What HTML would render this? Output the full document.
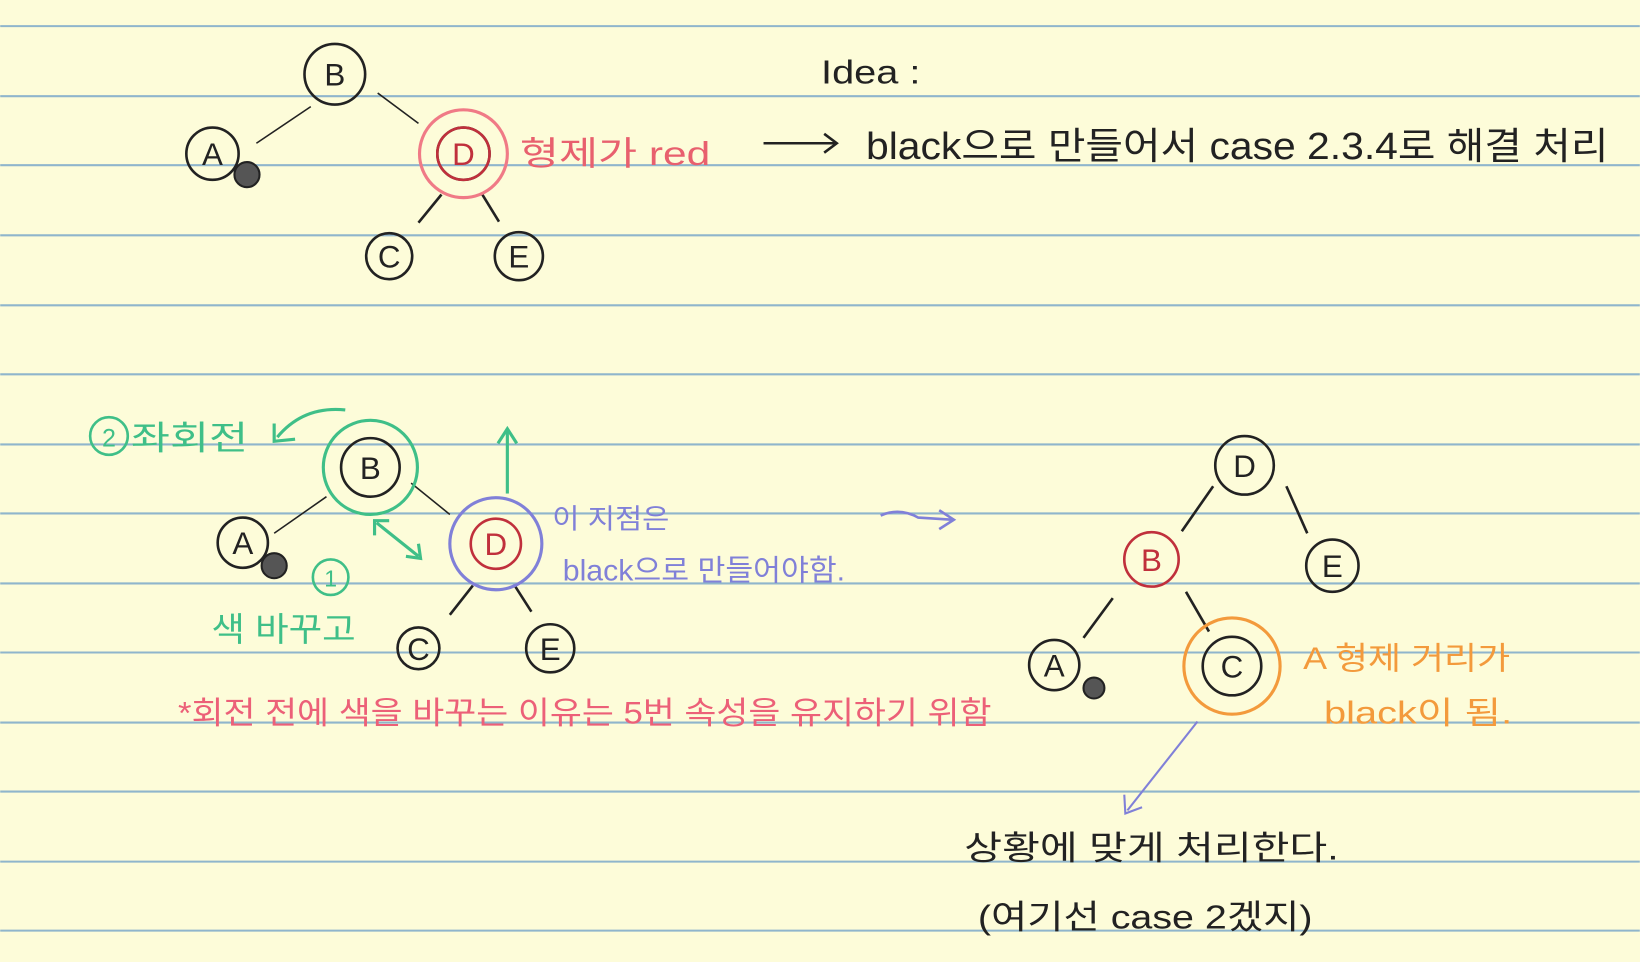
<!DOCTYPE html>
<html><head><meta charset="utf-8"><style>
html,body{margin:0;padding:0;background:#fdfcd9;}
svg{display:block;}
text{font-family:"Liberation Sans","Noto Sans CJK KR",sans-serif;}
</style></head><body>
<svg width="1640" height="962" viewBox="0 0 1568 920" xmlns="http://www.w3.org/2000/svg">
<rect width="1568" height="920" fill="#fdfcd9"/>
<g stroke="#8fb5cc" stroke-width="2">
<line x1="0" y1="25" x2="1568" y2="25"/><line x1="0" y1="92" x2="1568" y2="92"/>
<line x1="0" y1="158" x2="1568" y2="158"/><line x1="0" y1="225" x2="1568" y2="225"/>
<line x1="0" y1="292" x2="1568" y2="292"/><line x1="0" y1="358" x2="1568" y2="358"/>
<line x1="0" y1="425" x2="1568" y2="425"/><line x1="0" y1="491" x2="1568" y2="491"/>
<line x1="0" y1="558" x2="1568" y2="558"/><line x1="0" y1="624" x2="1568" y2="624"/>
<line x1="0" y1="691" x2="1568" y2="691"/><line x1="0" y1="757" x2="1568" y2="757"/>
<line x1="0" y1="824" x2="1568" y2="824"/><line x1="0" y1="890" x2="1568" y2="890"/>
</g>
<!-- top tree -->
<g fill="none" stroke="#222" stroke-width="2.5">
<circle cx="320" cy="71" r="29"/><circle cx="203" cy="147" r="25"/>
<circle cx="443" cy="147" r="25"/><circle cx="372" cy="245" r="22"/><circle cx="496" cy="245" r="23"/>
<line x1="297" y1="102" x2="245" y2="137" stroke-width="1.5"/><line x1="361" y1="89" x2="400" y2="118" stroke-width="1.5"/>
<line x1="422" y1="186" x2="400" y2="213"/><line x1="461" y1="186" x2="477" y2="212"/>
<line x1="730" y1="137" x2="800" y2="137"/><path d="M788 128 L800 137 L788 146"/>
</g>
<circle cx="236" cy="167" r="12" fill="#555" stroke="#222" stroke-width="2"/>
<circle cx="443" cy="147" r="42" fill="none" stroke="#f07a86" stroke-width="3"/>
<circle cx="443" cy="147" r="25" fill="none" stroke="#c0303c" stroke-width="2.5"/>
<g font-size="30" text-anchor="middle" fill="#222"><text x="320" y="82">B</text><text x="203" y="158">A</text><text x="372" y="256">C</text><text x="496" y="256">E</text></g>
<text x="443" y="158" font-size="30" text-anchor="middle" fill="#c0303c">D</text>
<text x="497" y="158" font-size="32" fill="#e8606e" textLength="182" lengthAdjust="spacingAndGlyphs">형제가 red</text>
<text x="785" y="80" font-size="32" fill="#222" textLength="95" lengthAdjust="spacingAndGlyphs">Idea :</text>
<text x="828" y="152" font-size="36" fill="#222" textLength="710" lengthAdjust="spacingAndGlyphs">black으로 만들어서 case 2.3.4로 해결 처리</text>
<!-- middle tree -->
<g fill="none" stroke="#222" stroke-width="2.5">
<circle cx="354" cy="447" r="28"/><circle cx="232" cy="519" r="24"/>
<circle cx="400" cy="620" r="20"/><circle cx="526" cy="620" r="23"/>
<line x1="312" y1="475" x2="262" y2="510" stroke-width="1.5"/><line x1="393" y1="462" x2="430" y2="492" stroke-width="1.5"/>
<line x1="452" y1="560" x2="430" y2="588"/><line x1="492" y1="560" x2="508" y2="585"/>
</g>
<circle cx="262" cy="541" r="12" fill="#555" stroke="#222" stroke-width="2"/>
<circle cx="354" cy="447" r="45" fill="none" stroke="#3fbf88" stroke-width="3"/>
<circle cx="474" cy="520" r="44" fill="none" stroke="#8080d8" stroke-width="3"/>
<circle cx="474" cy="520" r="24" fill="none" stroke="#c0303c" stroke-width="2.5"/>
<g font-size="30" text-anchor="middle" fill="#222"><text x="354" y="458">B</text><text x="232" y="530">A</text><text x="400" y="631">C</text><text x="526" y="631">E</text></g>
<text x="474" y="531" font-size="30" text-anchor="middle" fill="#c0303c">D</text>
<g fill="none" stroke="#3fbf88" stroke-width="3">
<path d="M330 392 Q290 388 265 418"/><path d="M262 405 L262 422 L282 420"/>
<line x1="485" y1="472" x2="485" y2="412"/><path d="M476 424 L485 410 L494 424"/>
<line x1="360" y1="500" x2="400" y2="532"/><path d="M358 512 L358 498 L372 498 M388 532 L402 534 L400 520"/>
</g>
<circle cx="104" cy="417" r="18" fill="none" stroke="#3fbf88" stroke-width="2.5"/>
<text x="104" y="427" font-size="24" text-anchor="middle" fill="#3fbf88">2</text>
<text x="125" y="430" font-size="32" fill="#3fbf88" textLength="112" lengthAdjust="spacingAndGlyphs">좌회전</text>
<circle cx="316" cy="552" r="17" fill="none" stroke="#3fbf88" stroke-width="2.5"/>
<text x="316" y="561" font-size="22" text-anchor="middle" fill="#3fbf88">1</text>
<text x="202" y="613" font-size="32" fill="#3fbf88" textLength="138" lengthAdjust="spacingAndGlyphs">색 바꾸고</text>
<text x="528" y="505" font-size="26" fill="#8080d8" textLength="112" lengthAdjust="spacingAndGlyphs">이 지점은</text>
<text x="538" y="555" font-size="28" fill="#8080d8" textLength="270" lengthAdjust="spacingAndGlyphs">black으로 만들어야함.</text>
<g fill="none" stroke="#8080d8" stroke-width="2.5"><path d="M842 493 Q860 485 878 495 L910 497"/><path d="M898 488 L912 497 L898 506"/></g>
<text x="170" y="692" font-size="30" fill="#ec6078" textLength="778" lengthAdjust="spacingAndGlyphs">*회전 전에 색을 바꾸는 이유는 5번 속성을 유지하기 위함</text>
<!-- right tree -->
<g fill="none" stroke="#222" stroke-width="2.5">
<circle cx="1190" cy="445" r="28"/><circle cx="1274" cy="541" r="25"/>
<circle cx="1008" cy="636" r="24"/>
<circle cx="1178" cy="637" r="28"/>
<line x1="1160" y1="465" x2="1130" y2="508"/><line x1="1230" y1="465" x2="1250" y2="510"/>
<line x1="1064" y1="572" x2="1036" y2="610"/><line x1="1134" y1="566" x2="1156" y2="604"/>
</g>
<circle cx="1046" cy="658" r="10" fill="#555" stroke="#222" stroke-width="2"/>
<circle cx="1101" cy="535" r="26" fill="none" stroke="#c0303c" stroke-width="2.5"/>
<circle cx="1178" cy="637" r="46" fill="none" stroke="#f39a3c" stroke-width="3"/>
<g font-size="30" text-anchor="middle" fill="#222"><text x="1190" y="456">D</text><text x="1274" y="552">E</text><text x="1008" y="647">A</text><text x="1178" y="648">C</text></g>
<text x="1101" y="546" font-size="30" text-anchor="middle" fill="#c0303c">B</text>
<text x="1246" y="640" font-size="30" fill="#f39a3c" textLength="198" lengthAdjust="spacingAndGlyphs">A 형제 거리가</text>
<text x="1266" y="692" font-size="30" fill="#f39a3c" textLength="180" lengthAdjust="spacingAndGlyphs">black이 됨.</text>
<g fill="none" stroke="#8080d8" stroke-width="2"><line x1="1145" y1="690" x2="1078" y2="775"/><path d="M1075 760 L1076 778 L1092 772"/></g>
<text x="922" y="822" font-size="32" fill="#222" textLength="358" lengthAdjust="spacingAndGlyphs">상황에 맞게 처리한다.</text>
<text x="935" y="888" font-size="32" fill="#222" textLength="320" lengthAdjust="spacingAndGlyphs">(여기선 case 2겠지)</text>
</svg>
</body></html>
